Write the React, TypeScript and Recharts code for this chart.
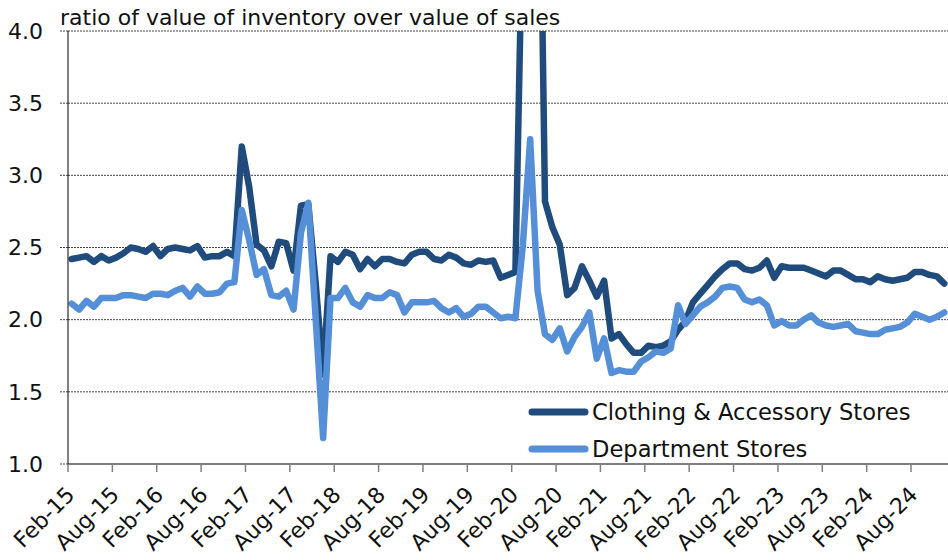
import { LineChart, Line, XAxis, YAxis, CartesianGrid } from 'recharts'

// monthly ratios, Feb-15 .. Dec-24
const clothing = [
  2.42, 2.43, 2.44, 2.40, 2.44, 2.41, 2.43, 2.46, 2.50, 2.49, 2.47, 2.51,
  2.44, 2.49, 2.50, 2.49, 2.48, 2.51, 2.43, 2.44, 2.44, 2.47, 2.44, 3.20,
  2.92, 2.52, 2.48, 2.37, 2.54, 2.53, 2.34, 2.79, 2.80, 2.25, 1.62, 2.44,
  2.40, 2.47, 2.45, 2.35, 2.42, 2.37, 2.42, 2.42, 2.40, 2.39, 2.45, 2.47,
  2.47, 2.42, 2.41, 2.45, 2.43, 2.39, 2.38, 2.41, 2.40, 2.41, 2.29, 2.31,
  2.33, 4.90, 9.50, 6.40, 2.82, 2.64, 2.52, 2.17, 2.22, 2.37, 2.27, 2.16,
  2.27, 1.87, 1.90, 1.83, 1.77, 1.77, 1.82, 1.81, 1.82, 1.85, 1.93, 1.99,
  2.12, 2.18, 2.24, 2.30, 2.35, 2.39, 2.39, 2.35, 2.34, 2.36, 2.41, 2.29,
  2.37, 2.36, 2.36, 2.36, 2.34, 2.32, 2.30, 2.34, 2.34, 2.31, 2.28, 2.28,
  2.26, 2.30, 2.28, 2.27, 2.28, 2.29, 2.33, 2.33, 2.31, 2.30, 2.25,
]

const department = [
  2.11, 2.07, 2.13, 2.09, 2.15, 2.15, 2.15, 2.17, 2.17, 2.16, 2.15, 2.18,
  2.18, 2.17, 2.20, 2.22, 2.16, 2.23, 2.18, 2.18, 2.19, 2.25, 2.26, 2.76,
  2.55, 2.31, 2.35, 2.17, 2.16, 2.20, 2.07, 2.60, 2.81, 2.00, 1.18, 2.15,
  2.15, 2.22, 2.12, 2.09, 2.17, 2.15, 2.15, 2.19, 2.17, 2.05, 2.12, 2.12,
  2.12, 2.13, 2.08, 2.05, 2.08, 2.02, 2.04, 2.09, 2.09, 2.05, 2.01, 2.02,
  2.01, 2.51, 3.25, 2.20, 1.90, 1.86, 1.94, 1.78, 1.88, 1.95, 2.05, 1.73,
  1.87, 1.63, 1.65, 1.64, 1.64, 1.71, 1.74, 1.78, 1.77, 1.80, 2.10, 1.97,
  2.03, 2.09, 2.12, 2.16, 2.22, 2.23, 2.22, 2.14, 2.12, 2.14, 2.10, 1.96,
  1.99, 1.96, 1.96, 2.00, 2.03, 1.98, 1.96, 1.95, 1.96, 1.97, 1.92, 1.91,
  1.90, 1.90, 1.93, 1.94, 1.95, 1.98, 2.04, 2.02, 2.00, 2.02, 2.05,
]

const tickLabels = [
  'Feb-15', 'Aug-15', 'Feb-16', 'Aug-16', 'Feb-17', 'Aug-17', 'Feb-18',
  'Aug-18', 'Feb-19', 'Aug-19', 'Feb-20', 'Aug-20', 'Feb-21', 'Aug-21',
  'Feb-22', 'Aug-22', 'Feb-23', 'Aug-23', 'Feb-24', 'Aug-24',
]

const yTicks = [1.0, 1.5, 2.0, 2.5, 3.0, 3.5, 4.0]

const MONTHS = ['Jan', 'Feb', 'Mar', 'Apr', 'May', 'Jun', 'Jul', 'Aug', 'Sep', 'Oct', 'Nov', 'Dec']
const months = clothing.map((_, i) => {
  const m = (1 + i) % 12
  const yr = 15 + Math.floor((1 + i) / 12)
  return `${MONTHS[m]}-${yr}`
})

const data = months.map((month, i) => ({
  i,
  month,
  clothing: clothing[i],
  department: department[i],
}))

const DARK = '#1F4B7D'
const LIGHT = '#558FD8'
const FONT = '"DejaVu Sans", sans-serif'

const xTicks = tickLabels.map((_, j) => j * 6 - 0.5)

function XTick(props: any) {
  const { x, y, payload } = props
  const label = tickLabels[Math.round((payload.value + 0.5) / 6)]
  const ax = x + 8
  const ay = y + 22
  return (
    <text x={ax} y={ay} transform={`rotate(-45, ${ax}, ${ay})`} textAnchor="end" fontSize={22} fill="#111" fontFamily={FONT}>
      {label}
    </text>
  )
}

const series = [
  { name: 'Clothing & Accessory Stores', color: DARK },
  { name: 'Department Stores', color: LIGHT },
]

function LegendBox() {
  return (
    <div style={{ position: 'absolute', left: 528, top: 393, fontFamily: FONT, fontSize: 22.6, color: '#111' }}>
      {series.map(s => (
        <div key={s.name} style={{ display: 'flex', alignItems: 'center', height: 37.6 }}>
          <svg width={62} height={10}>
            <line x1={4} y1={5} x2={57} y2={5} stroke={s.color} strokeWidth={7} strokeLinecap="round" />
          </svg>
          <span style={{ marginLeft: 2, whiteSpace: 'nowrap' }}>{s.name}</span>
        </div>
      ))}
    </div>
  )
}

export default function App() {
  return (
    <div style={{ position: 'absolute', left: 0, top: 0, width: 948, height: 560, background: '#fff', fontFamily: FONT }}>
      <LineChart width={948} height={560} data={data} margin={{ top: 31, right: 0, bottom: 0, left: 0 }}>
        <CartesianGrid vertical={false} stroke="#444" strokeDasharray="2 1" />
        <XAxis
          type="number"
          dataKey="i"
          domain={[-0.5, 118.5]}
          ticks={xTicks}
          interval={0}
          height={96}
          tick={<XTick />}
          tickSize={8}
          axisLine={{ stroke: '#7f7f7f', strokeWidth: 2 }}
          tickLine={{ stroke: '#7f7f7f', strokeWidth: 1.5 }}
        />
        <YAxis
          domain={[1, 4]}
          ticks={yTicks}
          allowDataOverflow
          width={68}
          tickSize={8}
          tickMargin={17}
          tickFormatter={(v: number) => v.toFixed(1)}
          tick={{ fill: '#111', fontSize: 22, fontFamily: FONT }}
          axisLine={{ stroke: '#000', strokeWidth: 1 }}
          tickLine={{ stroke: '#444', strokeDasharray: '2 1' }}
        />
        <Line
          type="linear"
          dataKey="clothing"
          name="Clothing & Accessory Stores"
          stroke={DARK}
          strokeWidth={6.5}
          strokeLinejoin="round"
          strokeLinecap="round"
          dot={false}
          isAnimationActive={false}
        />
        <Line
          type="linear"
          dataKey="department"
          name="Department Stores"
          stroke={LIGHT}
          strokeWidth={6.5}
          strokeLinejoin="round"
          strokeLinecap="round"
          dot={false}
          isAnimationActive={false}
        />
      </LineChart>
      <LegendBox />
      <svg width={948} height={40} style={{ position: 'absolute', left: 0, top: 0, pointerEvents: 'none' }}>
        <text x={60} y={25} fontSize={22} fill="#111" fontFamily={FONT}>
          ratio of value of inventory over value of sales
        </text>
      </svg>
    </div>
  )
}
